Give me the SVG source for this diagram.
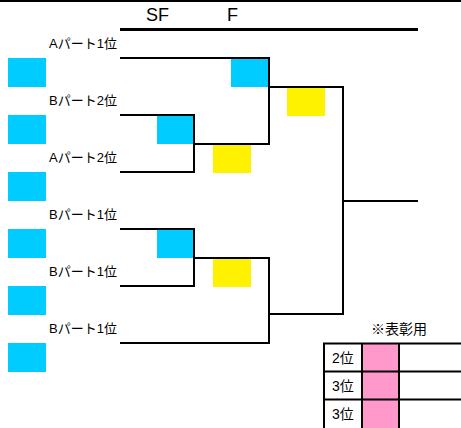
<svg xmlns="http://www.w3.org/2000/svg" width="461" height="428" viewBox="0 0 461 428">
<style>
.t{font-family:"Liberation Sans","Noto Sans CJK JP",sans-serif;fill:#000}
.lbl{font-size:13px}
.hdr{font-size:18px}
.tb{font-size:14px}
.cy{fill:#00CCFF}
.ye{fill:#FFF200}
.pk{fill:#FF99CC}
.ln{fill:none;stroke:#000;stroke-width:2}
</style>
<rect width="461" height="428" fill="#fff"/>
<g id="header">
<line x1="0" y1="1" x2="461" y2="1" stroke="#000" stroke-width="2"/>
<line x1="120" y1="29.5" x2="418" y2="29.5" stroke="#000" stroke-width="3"/>
<text class="t hdr" x="146" y="21">SF</text>
<text class="t hdr" x="227" y="21">F</text>
</g>
<g id="connectors" class="ln">
<path d="M120,58 H269 V144 H194"/>
<path d="M120,115 H194 V172 H120"/>
<path d="M269,87 H343 V314 H269"/>
<path d="M343,201 H418"/>
<path d="M120,229 H194 V286 H120"/>
<path d="M194,258 H269 V343 H120"/>
</g>
<g id="team1"><rect class="cy" x="8" y="58" width="38" height="29"/><text class="t lbl" x="49" y="48">Aパート1位</text></g>
<g id="team2"><rect class="cy" x="8" y="115" width="38" height="29"/><text class="t lbl" x="49" y="105">Bパート2位</text></g>
<g id="team3"><rect class="cy" x="8" y="172" width="38" height="29"/><text class="t lbl" x="49" y="162">Aパート2位</text></g>
<g id="team4"><rect class="cy" x="8" y="229" width="38" height="29"/><text class="t lbl" x="49" y="219">Bパート1位</text></g>
<g id="team5"><rect class="cy" x="8" y="286" width="38" height="29"/><text class="t lbl" x="49" y="276">Bパート1位</text></g>
<g id="team6"><rect class="cy" x="8" y="343" width="38" height="29"/><text class="t lbl" x="49" y="333">Bパート1位</text></g>
<g id="sf1"><rect class="cy" x="157" y="116" width="36" height="28"/><rect class="ye" x="213" y="145" width="38" height="28"/></g>
<g id="sf2"><rect class="cy" x="157" y="230" width="36" height="28"/><rect class="ye" x="213" y="259" width="38" height="28"/></g>
<g id="final"><rect class="cy" x="231" y="59" width="37" height="28"/><rect class="ye" x="287" y="88" width="38" height="28"/></g>
<g id="awards">
<text class="t tb" x="371" y="334">※表彰用</text>
<rect class="pk" x="362" y="343" width="37" height="85"/>
<g class="ln">
<path d="M324,428 V343.5 H461"/>
<path d="M323,371.5 H461"/>
<path d="M323,399.5 H461"/>
<path d="M362,343 V428"/>
<path d="M399,343 V428"/>
</g>
<text class="t tb" x="332" y="363">2位</text>
<text class="t tb" x="332" y="391">3位</text>
<text class="t tb" x="332" y="419">3位</text>
</g>
</svg>
